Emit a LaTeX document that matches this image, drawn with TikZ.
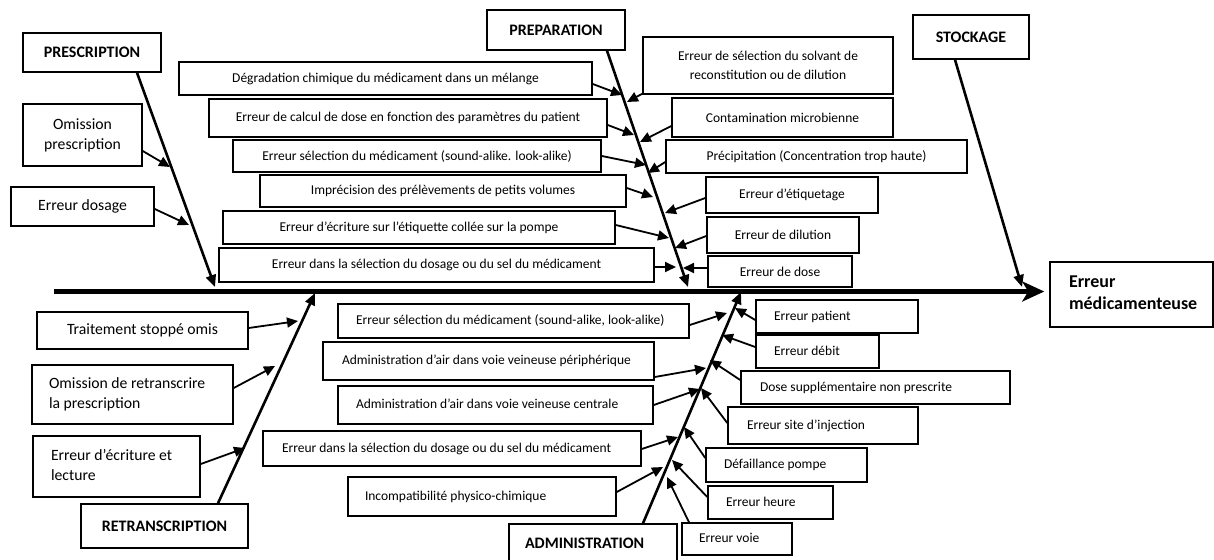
\documentclass[tikz,border=0pt]{standalone}
\usepackage{fontspec}
\setmainfont{Carlito}
\usetikzlibrary{arrows.meta}
\newcommand\lab{\fontsize{16}{19}\selectfont\bfseries}
\newcommand\mybx[7][]{%
  \pgfmathsetmacro\bw{#5-#3}\pgfmathsetmacro\bh{#6-#4}%
  \pgfmathsetmacro\bcx{(#3+#5)/2}\pgfmathsetmacro\bcy{(#4+#6)/2}%
  \node[box,minimum width=\bw pt,minimum height=\bh pt,#1] (#2) at (\bcx,\bcy) {#7};}
\newcommand\mylbx[8]{% pad, options, name, x1, y1, x2, y2, text
  \pgfmathsetmacro\bh{#7-#5}\pgfmathsetmacro\btw{#6-#4-2*#1}%
  \pgfmathsetmacro\bcx{(#4+#6)/2}\pgfmathsetmacro\bcy{(#5+#7)/2}%
  \node[box,inner xsep=#1pt,minimum height=\bh pt,#2] (#3) at (\bcx,\bcy)
    {\makebox[\btw pt][l]{\begin{tabular}{@{}l@{}}#8\end{tabular}}};}
\tikzset{
  box/.style={draw, line width=1.5pt, inner sep=0pt, align=center, font=\fontsize{13.5}{18.5}\selectfont},
  bigtxt/.style={font=\fontsize{15.7}{20}\selectfont},
  branch/.style={line width=2.6pt, -{Triangle[length=12pt,width=10pt]}},
  cause/.style={line width=1.8pt, -{Triangle[length=11pt,width=10pt]}},
  spine/.style={line width=5.5pt, -{Stealth[length=22pt,width=20pt,inset=6pt]}, shorten >=5pt},
}
\begin{document}
\begin{tikzpicture}[x=1pt,y=-1pt]
\useasboundingbox (0,0) rectangle (1214,559);
\fill[white] (0,0) rectangle (1214,559);
\clip (0,0) rectangle (1214,559);

% ---------- boxes ----------
\mybx[font=\lab]{presc}{23}{33}{161}{72}{PRESCRIPTION}
\mybx[bigtxt]{omis}{23}{104}{142}{166}{Omission\\prescription}
\mybx[bigtxt]{dosage}{11}{187}{154}{226}{Erreur dosage}

\mybx[font=\lab]{prep}{487}{10}{625}{50}{PREPARATION}
\mybx{l1}{179}{62}{592}{95}{Dégradation chimique du médicament dans un mélange}
\mybx{l2}{209}{99}{607}{137}{Erreur de calcul de dose en fonction des paramètres du patient}
\mybx{l3}{233}{140}{601}{172}{Erreur sélection du médicament (sound-alike. look-alike)}
\mybx{l4}{260}{175}{626}{207}{Imprécision des prélèvements de petits volumes}
\mybx{l5}{223}{211}{615}{244}{Erreur d’écriture sur l’étiquette collée sur la pompe}
\mybx{l6}{219}{248}{654}{282}{Erreur dans la sélection du dosage ou du sel du médicament}
\mybx{r1}{643}{37}{893}{94}{Erreur de sélection du solvant de\\reconstitution ou de dilution}
\mybx{r2}{672}{98}{893}{137}{Contamination microbienne}
\mybx{r3}{666}{140}{967}{173}{Précipitation (Concentration trop haute)}
\mybx{r4}{706}{177}{878}{213}{Erreur d’étiquetage}
\mybx{r5}{707}{217}{859}{253}{Erreur de dilution}
\mybx{r6}{708}{256}{852}{287}{Erreur de dose}

\mybx[font=\lab]{stock}{913}{15}{1029}{59}{STOCKAGE}
\mylbx{19}{font=\fontsize{18}{22}\selectfont\bfseries}{effet}{1050}{262}{1213}{327}{Erreur\\médicamenteuse}

\mybx[bigtxt]{trait}{37}{312}{248}{349}{Traitement stoppé omis}
\mylbx{17}{bigtxt}{omret}{32}{365}{233}{424}{Omission de retranscrire\\la prescription}
\mylbx{18}{bigtxt}{ecrit}{33}{436}{200}{497}{Erreur d’écriture et\\lecture}
\mybx[font=\lab]{retr}{81}{504}{248}{548}{RETRANSCRIPTION}

\mylbx{18}{}{a1}{338}{304}{689}{338}{Erreur sélection du médicament (sound-alike, look-alike)}
\mylbx{19}{}{a2}{323}{342}{654}{380}{Administration d’air dans voie veineuse périphérique}
\mylbx{18}{}{a3}{338}{386}{653}{424}{Administration d’air dans voie veineuse centrale}
\mylbx{19}{}{a4}{263}{431}{641}{466}{Erreur dans la sélection du dosage ou du sel du médicament}
\mylbx{17}{}{a5}{348}{477}{616}{516}{Incompatibilité physico-chimique}
\mylbx{16}{font=\lab}{admin}{509}{524}{677}{565}{ADMINISTRATION}
\mylbx{18}{}{b1}{756}{300}{918}{333}{Erreur patient}
\mylbx{18}{}{b2}{756}{335}{879}{368}{Erreur débit}
\mylbx{19}{}{b3}{741}{371}{1010}{404}{Dose supplémentaire non prescrite}
\mylbx{19}{}{b4}{728}{407}{918}{444}{Erreur site d’injection}
\mylbx{18}{}{b5}{706}{448}{867}{482}{Défaillance pompe}
\mylbx{18}{}{b6}{708}{486}{833}{519}{Erreur heure}
\mylbx{17}{}{b7}{682}{523}{792}{555}{Erreur voie}

% ---------- main spine ----------
\coordinate (s0) at (54,291.5);
\draw[spine] (s0) -- (effet.west |- s0);

% ---------- branch tips ----------
\coordinate (tpresc) at (215,287);
\coordinate (tprep) at (688,287);
\coordinate (tstock) at (1022,287);
\coordinate (tretr) at (315,293);
\coordinate (tadmin) at (741,292);

\draw[branch] ([xshift=45pt]presc.south) -- (tpresc);
\draw[branch] ([xshift=51pt]prep.south) -- (tprep);
\draw[branch] ([xshift=-16pt]stock.south) -- (tstock);
\draw[branch] ([xshift=53.5pt]retr.north) -- (tretr);
\draw[branch] ([xshift=50pt]admin.north) -- (tadmin);

% ---------- cause tips ----------
\coordinate (c1) at (170,167);
\coordinate (c2) at (189,225);
\coordinate (cl1) at (622,95);
\coordinate (cl2) at (634,135);
\coordinate (cl3) at (646,165);
\coordinate (cl4) at (653,197);
\coordinate (cl5) at (669,238);
\coordinate (cl6) at (676,267);
\coordinate (cr1) at (627,102);
\coordinate (cr2) at (640,142);
\coordinate (cr3) at (648,173);
\coordinate (cr4) at (665,213);
\coordinate (cr5) at (675,248);
\coordinate (cr6) at (683,268);
\coordinate (ct1) at (298,321);
\coordinate (ct2) at (275,366);
\coordinate (ct3) at (245,448);
\coordinate (ca1) at (727,313);
\coordinate (ca2) at (706,368);
\coordinate (ca3) at (700,389);
\coordinate (ca4) at (678,437);
\coordinate (ca5) at (663,467);
\coordinate (cb1) at (735,308);
\coordinate (cb2) at (722,335);
\coordinate (cb3) at (710,360);
\coordinate (cb4) at (701,388);
\coordinate (cb5) at (684,427);
\coordinate (cb6) at (672,460);
\coordinate (cb7) at (667,477);

\draw[cause] ([yshift=-16pt]omis.east) -- (c1);
\draw[cause] ([yshift=-2.5pt]dosage.east) -- (c2);

\draw[cause] ([yshift=-5.5pt]l1.east) -- (cl1);
\draw[cause] ([yshift=-7pt]l2.east) -- (cl2);
\draw[cause] (l3.east) -- (cl3);
\draw[cause] ([yshift=3pt]l4.east) -- (cl4);
\draw[cause] ([yshift=2.5pt]l5.east) -- (cl5);
\draw[cause] ([yshift=-2pt]l6.east) -- (cl6);
\draw[cause] ([yshift=1pt]r1.south west) -- (cr1);
\draw[cause] ([yshift=-8.5pt]r2.west) -- (cr2);
\draw[cause] ([yshift=-5.5pt]r3.west) -- (cr3);
\draw[cause] ([yshift=-3pt]r4.west) -- (cr4);
\draw[cause] ([yshift=-1pt]r5.west) -- (cr5);
\draw[cause] ([yshift=3.5pt]r6.west) -- (cr6);

\draw[cause] ([yshift=2.5pt]trait.east) -- (ct1);
\draw[cause] ([yshift=6.5pt]omret.east) -- (ct2);
\draw[cause] ([yshift=2.5pt]ecrit.east) -- (ct3);

\draw[cause] ([yshift=-4pt]a1.east) -- (ca1);
\draw[cause] ([yshift=-16pt]a2.east) -- (ca2);
\draw[cause] (a3.east) -- (ca3);
\draw[cause] ([yshift=-0.5pt]a4.east) -- (ca4);
\draw[cause] ([yshift=4.5pt]a5.east) -- (ca5);
\draw[cause] ([yshift=-3.5pt]b1.west) -- (cb1);
\draw[cause] ([yshift=4.5pt]b2.west) -- (cb2);
\draw[cause] ([yshift=7.5pt]b3.west) -- (cb3);
\draw[cause] ([yshift=2.5pt]b4.west) -- (cb4);
\draw[cause] ([yshift=7pt]b5.west) -- (cb5);
\draw[cause] ([yshift=5.5pt]b6.west) -- (cb6);
\draw[cause] ([xshift=-48pt]b7.north) -- (cb7);
\end{tikzpicture}
\end{document}
